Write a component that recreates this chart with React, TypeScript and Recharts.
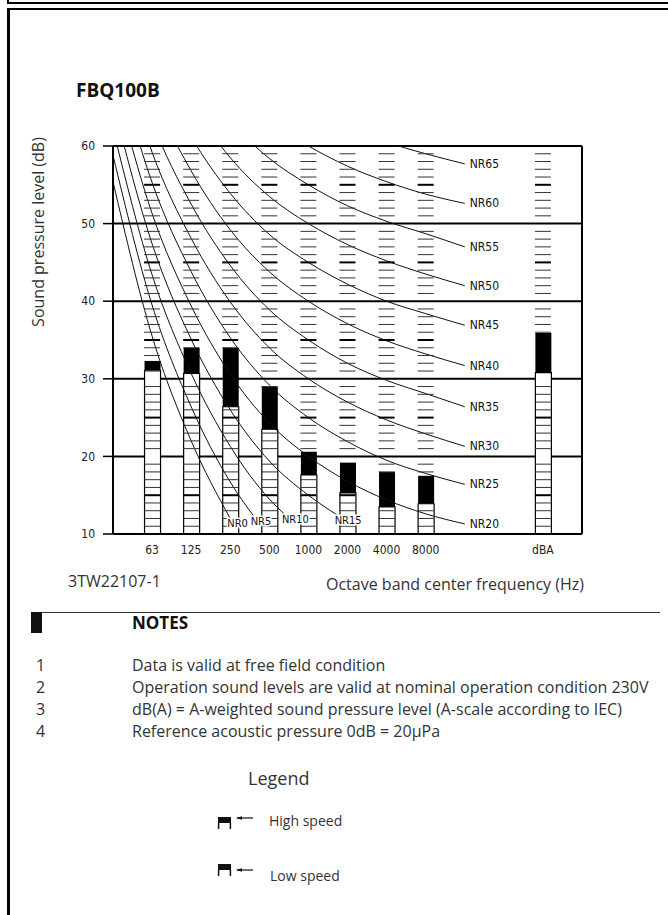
import React from 'react';
import {
  Bar,
  CartesianGrid,
  ComposedChart,
  LabelList,
  Line,
  ReferenceLine,
  Scatter,
  XAxis,
  YAxis,
} from 'recharts';

// octave bands, placed on slots of the x axis (31.5 Hz would be slot 0)
const bandLabels = ['63', '125', '250', '500', '1000', '2000', '4000', '8000', 'dBA'];
const bandSlots = [1, 2, 3, 4, 5, 6, 7, 8, 11];

// sound pressure levels (dB)
const highSpeed = [32.3, 34.0, 34.0, 29.0, 20.6, 19.2, 18.0, 17.5, 35.9];
const lowSpeed = [31.1, 30.7, 26.4, 23.5, 17.6, 15.3, 13.5, 13.9, 30.8];

const yTicks = [10, 20, 30, 40, 50, 60];

// NR curves: values at 31.5, 63, 125 ... 8000 Hz, last value is where the drawn curve stops
const nrLevels = [0, 5, 10, 15, 20, 25, 30, 35, 40, 45, 50, 55, 60, 65];
const nr0 = [55.4, 35.5, 22.0, 12.0];
const nr5 = [58.8, 39.5, 26.4, 16.7, 12.3];
const nr10 = [62.2, 43.4, 30.7, 21.3, 14.5, 12.5];
const nr15 = [65.6, 47.4, 35.1, 26.0, 19.4, 15.0, 12.4];
const nr20 = [69.0, 51.3, 39.4, 30.6, 24.3, 20.0, 16.8, 14.4, 12.6, 11.3];
const nr25 = [72.4, 55.3, 43.8, 35.3, 29.2, 25.0, 21.9, 19.5, 17.8, 16.4];
const nr30 = [75.8, 59.2, 48.1, 39.9, 34.0, 30.0, 27.0, 24.7, 22.9, 21.3];
const nr35 = [79.2, 63.2, 52.5, 44.6, 38.9, 35.0, 32.0, 29.8, 28.1, 26.4];
const nr40 = [82.6, 67.1, 56.8, 49.2, 43.8, 40.0, 37.1, 34.9, 33.2, 31.7];
const nr45 = [86.0, 71.1, 61.2, 53.9, 48.6, 45.0, 42.2, 40.0, 38.4, 36.9];
const nr50 = [89.5, 75.0, 65.5, 58.5, 53.5, 50.0, 47.3, 45.2, 43.5, 42.0];
const nr55 = [92.9, 79.0, 69.9, 63.2, 58.4, 55.0, 52.3, 50.3, 48.7, 47.0];
const nr60 = [96.3, 82.9, 74.2, 67.8, 63.2, 60.0, 57.4, 55.4, 53.8, 52.6];
const nr65 = [99.7, 86.9, 78.6, 72.5, 68.1, 65.0, 62.5, 60.5, 59.0, 57.7];
const nrValues = [nr0, nr5, nr10, nr15, nr20, nr25, nr30, nr35, nr40, nr45, nr50, nr55, nr60, nr65];
const nrEndSlot = [3, 3.6, 4.4, 5.75, 9, 9, 9, 9, 9, 9, 9, 9, 9, 9];

const rows = bandSlots.map((slot, i) => ({
  slot,
  low: [10, lowSpeed[i]],
  high: [lowSpeed[i], highSpeed[i]],
}));

// scale rungs of every column, one per dB (none inside the solid black part)
const rungs: { slot: number; db: number }[] = [];
bandSlots.forEach((slot, i) => {
  for (let db = 11; db < 60; db++) {
    if (db % 10 === 0) continue;
    if (db > lowSpeed[i] && db < highSpeed[i]) continue;
    rungs.push({ slot, db });
  }
});

const nrLines = nrLevels.map((nr, i) => ({
  nr,
  points: nrValues[i].map((db, j) => ({
    slot: j === nrValues[i].length - 1 ? nrEndSlot[i] : j,
    db,
  })),
}));

const narrow = '"Liberation Sans Narrow", "DejaVu Sans Condensed", sans-serif';

const Rung = (p: any) => {
  const major = p.payload.db % 5 === 0;
  return (
    <line
      x1={p.cx - 8}
      x2={p.cx + 8}
      y1={p.cy}
      y2={p.cy}
      stroke={major ? '#000' : '#333'}
      strokeWidth={major ? 2 : 1}
    />
  );
};

function NrLabel({ nr, count }: { nr: number; count: number }) {
  return (props: any) => {
    if (props.index !== count - 1) return null;
    const short = nr < 20;
    return (
      <text
        x={props.x + (short ? -3 : 5)}
        y={props.y + (short ? 5 : 0)}
        dominantBaseline="central"
        fontSize={short ? 11 : 12}
        fontFamily={narrow}
        fill="#111"
        stroke={short ? '#fff' : 'none'}
        strokeWidth={3}
        paintOrder="stroke"
      >
        {`NR${nr}`}
      </text>
    );
  };
}

function SoundChart() {
  return (
    <ComposedChart
      width={668}
      height={570}
      data={rows}
      barGap={-16}
      margin={{ top: 146, right: 86, bottom: 6, left: 53 }}
    >
      <CartesianGrid xAxisId="band" horizontal vertical={false} stroke="#000" strokeWidth={2} />
      <XAxis
        xAxisId="band"
        type="number"
        dataKey="slot"
        domain={[0, 12]}
        ticks={bandSlots}
        interval={0}
        allowDataOverflow
        tickFormatter={(v) => bandLabels[bandSlots.indexOf(v)] ?? ''}
        tickLine={false}
        tickMargin={5}
        height={30}
        axisLine={{ stroke: '#000', strokeWidth: 2 }}
        tick={{ fontSize: 12, fill: '#222', fontFamily: narrow }}
      />
      <XAxis xAxisId="nr" type="number" dataKey="slot" domain={[0, 12]} allowDataOverflow hide />
      <YAxis
        type="number"
        domain={[10, 60]}
        ticks={yTicks}
        interval={0}
        allowDataOverflow
        width={60}
        tickSize={10}
        tickMargin={8}
        axisLine={{ stroke: '#000', strokeWidth: 2 }}
        tickLine={{ stroke: '#000', strokeWidth: 1.5 }}
        tick={{ fontSize: 12, fill: '#222', fontFamily: narrow }}
      />
      <ReferenceLine xAxisId="band" x={12} stroke="#000" strokeWidth={2} />
      <Bar xAxisId="band" dataKey="low" barSize={16} fill="#fff" stroke="#000" strokeWidth={1.2} isAnimationActive={false} />
      <Bar xAxisId="band" dataKey="high" barSize={16} fill="#000" isAnimationActive={false} />
      {nrLines.map((l) => (
        <Line
          key={l.nr}
          xAxisId="nr"
          data={l.points}
          dataKey="db"
          type="monotone"
          stroke="#111"
          strokeWidth={1}
          dot={false}
          isAnimationActive={false}
        >
          <LabelList dataKey="db" content={NrLabel({ nr: l.nr, count: l.points.length })} />
        </Line>
      ))}
      <Scatter xAxisId="nr" data={rungs} dataKey="db" shape={Rung} isAnimationActive={false} />
    </ComposedChart>
  );
}

const notes = [
  'Data is valid at free field condition',
  'Operation sound levels are valid at nominal operation condition 230V',
  'dB(A) = A-weighted sound pressure level (A-scale according to IEC)',
  'Reference acoustic pressure 0dB = 20\u03bcPa',
];

const abs = (left: number, centerY: number, lh = 20): React.CSSProperties => ({
  position: 'absolute',
  left,
  top: centerY - lh / 2,
  lineHeight: `${lh}px`,
  whiteSpace: 'nowrap',
});

function LegendIcon({ top, arrowY }: { top: number; arrowY: number }) {
  return (
    <svg style={{ position: 'absolute', left: 216, top }} width={40} height={14}>
      <rect x={2} y={1} width={13} height={6} fill="#111" />
      <line x1={2.6} y1={7} x2={2.6} y2={13} stroke="#111" strokeWidth={1.5} />
      <line x1={14.4} y1={7} x2={14.4} y2={13} stroke="#111" strokeWidth={1.5} />
      <line x1={21} y1={arrowY} x2={37} y2={arrowY} stroke="#111" strokeWidth={1.2} />
      <path d={`M20 ${arrowY} L26 ${arrowY - 1.8} L26 ${arrowY + 1.8} Z`} fill="#111" />
    </svg>
  );
}

export default function App() {
  return (
    <div
      style={{
        position: 'relative',
        width: 668,
        height: 915,
        overflow: 'hidden',
        background: '#fff',
        fontFamily: '"Open Sans", "Noto Sans", sans-serif',
        color: '#333',
      }}
    >
      <style>{'body{margin:0}'}</style>
      <div style={{ position: 'absolute', left: 7, top: -30, width: 700, height: 34, border: '2px solid #000', boxSizing: 'border-box' }} />
      <div style={{ position: 'absolute', left: 7, top: 8, width: 700, height: 950, borderTop: '2px solid #000', borderLeft: '3px solid #000' }} />

      <div style={{ ...abs(76, 90), fontSize: 19, fontWeight: 700, color: '#111' }}>FBQ100B</div>
      <div
        style={{
          position: 'absolute',
          left: 38,
          top: 232,
          transform: 'translate(-50%, -50%) rotate(-90deg)',
          whiteSpace: 'nowrap',
          fontSize: 16,
          lineHeight: '20px',
        }}
      >
        Sound pressure level (dB)
      </div>

      <div style={{ position: 'absolute', left: 0, top: 0 }}>
        <SoundChart />
      </div>

      <div style={{ ...abs(68, 581), fontSize: 16 }}>3TW22107-1</div>
      <div style={{ ...abs(326, 584), fontSize: 16 }}>Octave band center frequency (Hz)</div>

      <div style={{ position: 'absolute', left: 40, top: 612, width: 620, height: 1, background: '#333' }} />
      <div style={{ position: 'absolute', left: 31, top: 612, width: 11, height: 21, background: '#111' }} />
      <div style={{ ...abs(132, 623), fontSize: 17, fontWeight: 700, color: '#111' }}>NOTES</div>

      {notes.map((n, i) => (
        <React.Fragment key={i}>
          <div style={{ ...abs(36, 665 + i * 22), fontSize: 16 }}>{i + 1}</div>
          <div style={{ ...abs(132, 665 + i * 22), fontSize: 16 }}>{n}</div>
        </React.Fragment>
      ))}

      <div style={{ ...abs(248, 778, 24), fontSize: 18 }}>Legend</div>
      <LegendIcon top={816} arrowY={2} />
      <div style={{ ...abs(269, 821), fontSize: 14 }}>High speed</div>
      <LegendIcon top={863} arrowY={7} />
      <div style={{ ...abs(270, 876), fontSize: 14 }}>Low speed</div>
    </div>
  );
}
